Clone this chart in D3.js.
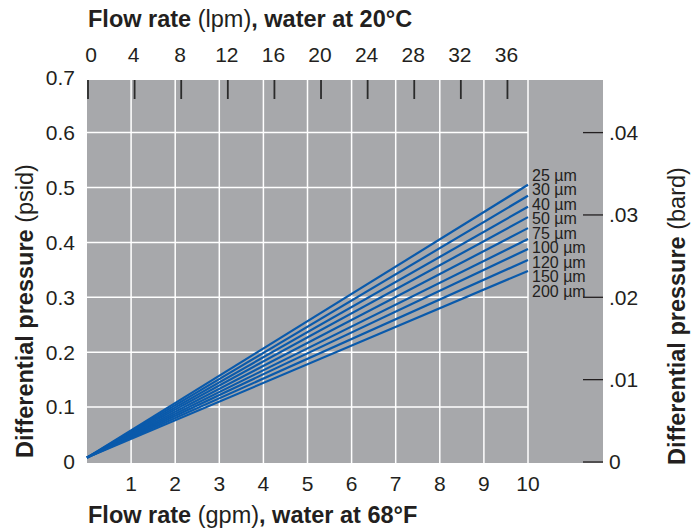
<!DOCTYPE html>
<html><head><meta charset="utf-8">
<script src="https://cdn.jsdelivr.net/npm/d3@7"></script>
<style>
html,body{margin:0;padding:0;background:#fff;}
svg{display:block;}
text{font-family:"Liberation Sans",Arial,Helvetica,sans-serif;fill:#231f20;}
</style></head>
<body>
<svg id="chart" width="698" height="528"></svg>
<script>
// ---- data ----
const filterLabels = ["25 µm","30 µm","40 µm","50 µm","75 µm","100 µm","120 µm","150 µm","200 µm"];
const flowGpm = [0, 10];
const startPsid = [0.008,0.008,0.008,0.008,0.008,0.008,0.008,0.008,0.008];
const endPsid = [0.505,0.485,0.465,0.446,0.426,0.406,0.388,0.368,0.348];
const gpmTicks = [1,2,3,4,5,6,7,8,9,10];
const lpmTicks = [0,4,8,12,16,20,24,28,32,36];
const psidTicks = [0,0.1,0.2,0.3,0.4,0.5,0.6,0.7];
const bardTicks = [0,0.01,0.02,0.03,0.04];
const LPM_PER_GPM = 3.785;

// ---- layout ----
const svg = d3.select("#chart");
const x = d3.scaleLinear().domain([0,10]).range([87,528]);
const y = d3.scaleLinear().domain([0,0.7]).range([462,77.7]);
const yBar = d3.scaleLinear().domain([0,0.04]).range([462,132.6]);
const grayRight = 603, grayTop = 80, grayBottom = 463;
const lineColor = "#0a5aab";
const tickFont = 21, titleFont = 23.5;

svg.append("rect").attr("x",x(0)).attr("y",grayTop)
  .attr("width",grayRight-x(0)).attr("height",grayBottom-grayTop)
  .attr("fill","#a7a8ab");

// gridlines
svg.append("g").selectAll("line").data(psidTicks.filter(d=>d>0 && d<0.7)).join("line")
  .attr("x1",x(0)).attr("x2",x(10)).attr("y1",d=>y(d)).attr("y2",d=>y(d))
  .attr("stroke","#fff").attr("stroke-width",1.5);
svg.append("g").selectAll("line").data(gpmTicks).join("line")
  .attr("x1",d=>x(d)).attr("x2",d=>x(d)).attr("y1",grayTop).attr("y2",grayBottom)
  .attr("stroke","#fff").attr("stroke-width",1.5);

// top lpm ticks (inside the plot)
svg.append("g").selectAll("line").data(lpmTicks).join("line")
  .attr("x1",d=>x(d/LPM_PER_GPM)+1).attr("x2",d=>x(d/LPM_PER_GPM)+1)
  .attr("y1",grayTop).attr("y2",grayTop+19)
  .attr("stroke","#2b2b2b").attr("stroke-width",1.8);

// lines
const series = filterLabels.map((f,i)=>({label:f, pts:[[flowGpm[0],startPsid[i]],[flowGpm[1],endPsid[i]]]}));
const lineGen = d3.line().x(d=>x(d[0])).y(d=>y(d[1]));
svg.append("g").selectAll("path").data(series).join("path")
  .attr("d",d=>lineGen(d.pts)).attr("fill","none")
  .attr("stroke",lineColor).attr("stroke-width",2.2);

// series labels
const labelTop = 175, labelStep = 14.5;
svg.append("g").selectAll("text").data(filterLabels).join("text")
  .attr("x",532).attr("y",(d,i)=>labelTop+i*labelStep)
  .attr("dy","0.35em").attr("font-size",16)
  .text(d=>d);

// right bard ticks
svg.append("g").selectAll("line").data(bardTicks).join("line")
  .attr("x1",583).attr("x2",grayRight).attr("y1",d=>yBar(d)).attr("y2",d=>yBar(d))
  .attr("stroke","#231f20").attr("stroke-width",1.3);
svg.append("g").selectAll("text").data(bardTicks).join("text")
  .attr("x",609).attr("y",d=>yBar(d)).attr("dy","0.35em").attr("font-size",tickFont)
  .text(d=>d===0?"0":d3.format(".2f")(d).replace(/^0/,""));

// left psid labels
svg.append("g").selectAll("text").data(psidTicks).join("text")
  .attr("x",75).attr("y",d=>y(d)).attr("dy","0.35em").attr("font-size",tickFont)
  .attr("text-anchor","end")
  .text(d=>d===0?"0":d3.format(".1f")(d));

// bottom gpm labels
svg.append("g").selectAll("text").data(gpmTicks).join("text")
  .attr("x",d=>x(d)).attr("y",484).attr("dy","0.35em").attr("font-size",tickFont)
  .attr("text-anchor","middle").text(d=>d);

// top lpm labels
svg.append("g").selectAll("text").data(lpmTicks).join("text")
  .attr("x",d=>x(d/LPM_PER_GPM)+(d===0?4:0)).attr("y",55).attr("dy","0.35em").attr("font-size",tickFont)
  .attr("text-anchor","middle").text(d=>d);

// titles
function mixed(t, parts){
  parts.forEach(p=>t.append("tspan").attr("font-weight",p[1]?"bold":"normal").text(p[0]));
}
mixed(svg.append("text").attr("x",88).attr("y",27).attr("font-size",titleFont),
  [["Flow rate ",true],["(lpm)",false],[", water at 20°C",true]]);
mixed(svg.append("text").attr("x",88).attr("y",523).attr("font-size",titleFont),
  [["Flow rate ",true],["(gpm)",false],[", water at 68°F",true]]);
mixed(svg.append("text").attr("transform","translate(33,311) rotate(-90)")
  .attr("text-anchor","middle").attr("font-size",titleFont),
  [["Differential pressure ",true],["(psid)",false]]);
mixed(svg.append("text").attr("transform","translate(685,316) rotate(-90)")
  .attr("text-anchor","middle").attr("font-size",titleFont),
  [["Differential pressure ",true],["(bard)",false]]);
</script>
</body></html>
